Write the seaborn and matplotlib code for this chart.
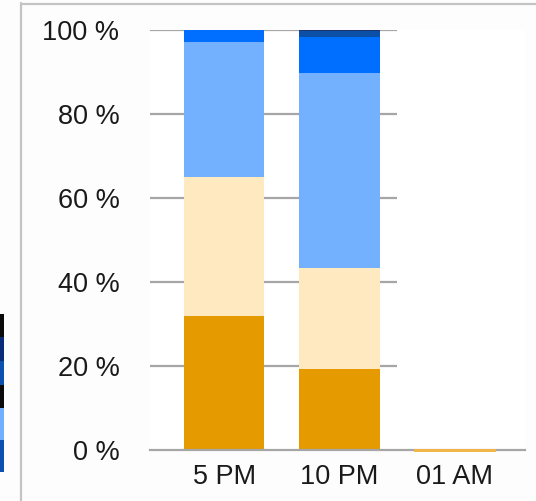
import matplotlib
matplotlib.use("Agg")
import matplotlib.pyplot as plt
from matplotlib.lines import Line2D
from matplotlib.patches import Rectangle
import numpy as np
import pandas as pd
import seaborn as sns

# Share of each band per time slot (percent)
times = ["5 PM", "10 PM", "01 AM"]
band_orange = [31.9, 19.3, 0.0]
band_cream = [33.2, 24.0, 0.0]
band_light = [32.1, 46.4, 0.0]
band_blue = [2.8, 8.7, 0.0]
band_dark = [0.0, 1.4, 0.0]
band_navy = [0.0, 0.2, 0.0]

series = [band_orange, band_cream, band_light, band_blue, band_dark, band_navy]
colors = ["#e59a00", "#fee9c1", "#73b1ff", "#006eff", "#0b4fa6", "#1b3672"]

yticks = [0, 20, 40, 60, 80, 100]
ytick_labels = ["0 %", "20 %", "40 %", "60 %", "80 %", "100 %"]

sns.set_theme(style="white")
plt.rcParams["font.family"] = ["Liberation Sans", "DejaVu Sans"]

fig = plt.figure(figsize=(5.36, 5.01), dpi=100)
fig.patch.set_facecolor("#fdfdfd")
ax = fig.add_axes([150 / 536, 1 - 450 / 501, 375 / 536, 420 / 501])
ax.set_facecolor("white")

# Stacked bars: draw cumulative totals from the top band down
cum = np.cumsum(np.array(series), axis=0)
for i in range(len(series) - 1, -1, -1):
    df = pd.DataFrame({"time": times, "value": cum[i]})
    sns.barplot(data=df, x="time", y="value", color=colors[i], width=0.7,
                saturation=1, linewidth=0, ax=ax, order=times)

# Empty time slots show as a thin line on the baseline
for p in ax.patches:
    idx = int(round(p.get_x() + p.get_width() / 2))
    if p.get_height() == 0 and np.isclose(cum[-1][idx], 0):
        p.set_edgecolor("#f2b548")
        p.set_linewidth(1.8)
        p.set_zorder(3)
        p.set_clip_on(False)

ax.set_xlim(-0.643, 2.61)
ax.set_ylim(0, 100)

# Horizontal gridlines
ax.hlines(yticks[1:], -0.643, 1.5, colors="#a6a6a6", linewidth=1.6, zorder=0)

for s in ["top", "right", "left"]:
    ax.spines[s].set_visible(False)
ax.spines["bottom"].set_color("#a6a6a6")
ax.spines["bottom"].set_linewidth(1.6)

ax.set_yticks(yticks)
ax.set_yticklabels(ytick_labels)
ax.tick_params(axis="y", length=0, pad=22, labelsize=19.5, labelcolor="#1a1a1a")
ax.tick_params(axis="x", length=0, pad=10, labelsize=19.5, labelcolor="#1a1a1a")
ax.set_xlabel("")
ax.set_ylabel("")

# Surrounding frame
fig.add_artist(Line2D([21 / 536, 21 / 536], [0, 1 - 3 / 501], color="#c4c4c4", linewidth=1.6))
fig.add_artist(Line2D([21 / 536, 1], [1 - 4 / 501, 1 - 4 / 501], color="#c4c4c4", linewidth=1.6))

# Edge of the neighbouring legend swatches
swatches = [(314, 337, "#0a0a0a"), (337, 361, "#0a2a7a"), (361, 385, "#0b52b0"),
            (385, 408, "#0a0a0a"), (408, 440, "#72b0ff"), (440, 472, "#0b52b0")]
for y0, y1, c in swatches:
    fig.add_artist(Rectangle((0, 1 - y1 / 501), 4 / 536, (y1 - y0) / 501,
                             facecolor=c, edgecolor="none", transform=fig.transFigure))

fig.savefig("out.png", dpi=100, facecolor=fig.get_facecolor())
